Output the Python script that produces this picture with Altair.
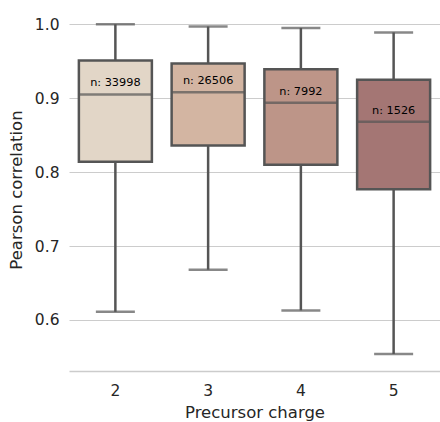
import altair as alt
import pandas as pd

charges = ["2", "3", "4", "5"]
lower = [0.611, 0.668, 0.613, 0.554]
q1 = [0.814, 0.836, 0.810, 0.777]
median = [0.905, 0.908, 0.894, 0.868]
q3 = [0.951, 0.947, 0.939, 0.925]
upper = [1.000, 0.997, 0.995, 0.989]
counts = [33998, 26506, 7992, 1526]
colors = ["#e2d6c7", "#d3b5a2", "#bd9588", "#a47674"]

df = pd.DataFrame({
    "charge": charges, "lower": lower, "q1": q1, "median": median,
    "q3": q3, "upper": upper,
    "label": [f"n: {c}" for c in counts],
})

FONT = "DejaVu Sans"
ydom = [0.531, 1.022]
xaxis = alt.Axis(labelAngle=0, ticks=False, labelPadding=12, grid=False,
                 domainColor="#cccccc", domainWidth=1.5, titlePadding=6)
x = alt.X("charge:N", sort=charges, title="Precursor charge",
          scale=alt.Scale(paddingInner=0.2, paddingOuter=0.1), axis=xaxis)
yscale = alt.Scale(domain=ydom, nice=False, zero=False)
yaxis = alt.Axis(values=[0.6, 0.7, 0.8, 0.9, 1.0], format=".1f", ticks=False,
                 domain=False, labelPadding=10, titlePadding=10, grid=True,
                 gridColor="#cccccc", gridWidth=1)


def Y(field):
    return alt.Y(field, scale=yscale, axis=yaxis, title="Pearson correlation")


base = alt.Chart(df)
GRAY = "#555555"

whisk_lo = base.mark_rule(color=GRAY, strokeWidth=2.5).encode(
    x=x, y=Y("lower:Q"), y2="q1:Q")
whisk_hi = base.mark_rule(color=GRAY, strokeWidth=2.5).encode(
    x=x, y=Y("q3:Q"), y2="upper:Q")
box = base.mark_bar(stroke=GRAY, strokeWidth=2.5, size=73).encode(
    x=x, y=Y("q1:Q"), y2="q3:Q",
    color=alt.Color("charge:N", scale=alt.Scale(domain=charges, range=colors),
                    legend=None))
cap_lo = base.mark_tick(color=GRAY, thickness=2.5, size=39, orient="horizontal").encode(
    x=x, y=Y("lower:Q"))
cap_hi = base.mark_tick(color=GRAY, thickness=2.5, size=39, orient="horizontal").encode(
    x=x, y=Y("upper:Q"))
med = base.mark_tick(color=GRAY, thickness=2.5, size=73, orient="horizontal").encode(
    x=x, y=Y("median:Q"))
txt = base.mark_text(font=FONT, fontSize=11.3, color="#000000", baseline="bottom",
                     dy=-6).encode(
    x=x, y=Y("median:Q"), text="label:N")

chart = alt.layer(whisk_lo, whisk_hi, box, cap_lo, cap_hi, med, txt).properties(
    width=371, height=363,
    autosize=alt.AutoSizeParams(type="none"),
    padding={"left": 69, "top": 8, "right": 0, "bottom": 51},
    view=alt.ViewBackground(stroke="transparent", strokeWidth=0),
).configure_view(stroke="transparent", strokeWidth=0, strokeOpacity=0).configure(
    background="white").configure_axis(
    labelFont=FONT, titleFont=FONT, labelFontSize=15.5, titleFontSize=16.5,
    titleFontWeight="normal", labelColor="#262626", titleColor="#262626",
    ticks=False,
).configure_axisY(domain=False).configure_axisX(grid=False)

chart.save("out.html", embed_options={"renderer": "svg", "actions": False})
